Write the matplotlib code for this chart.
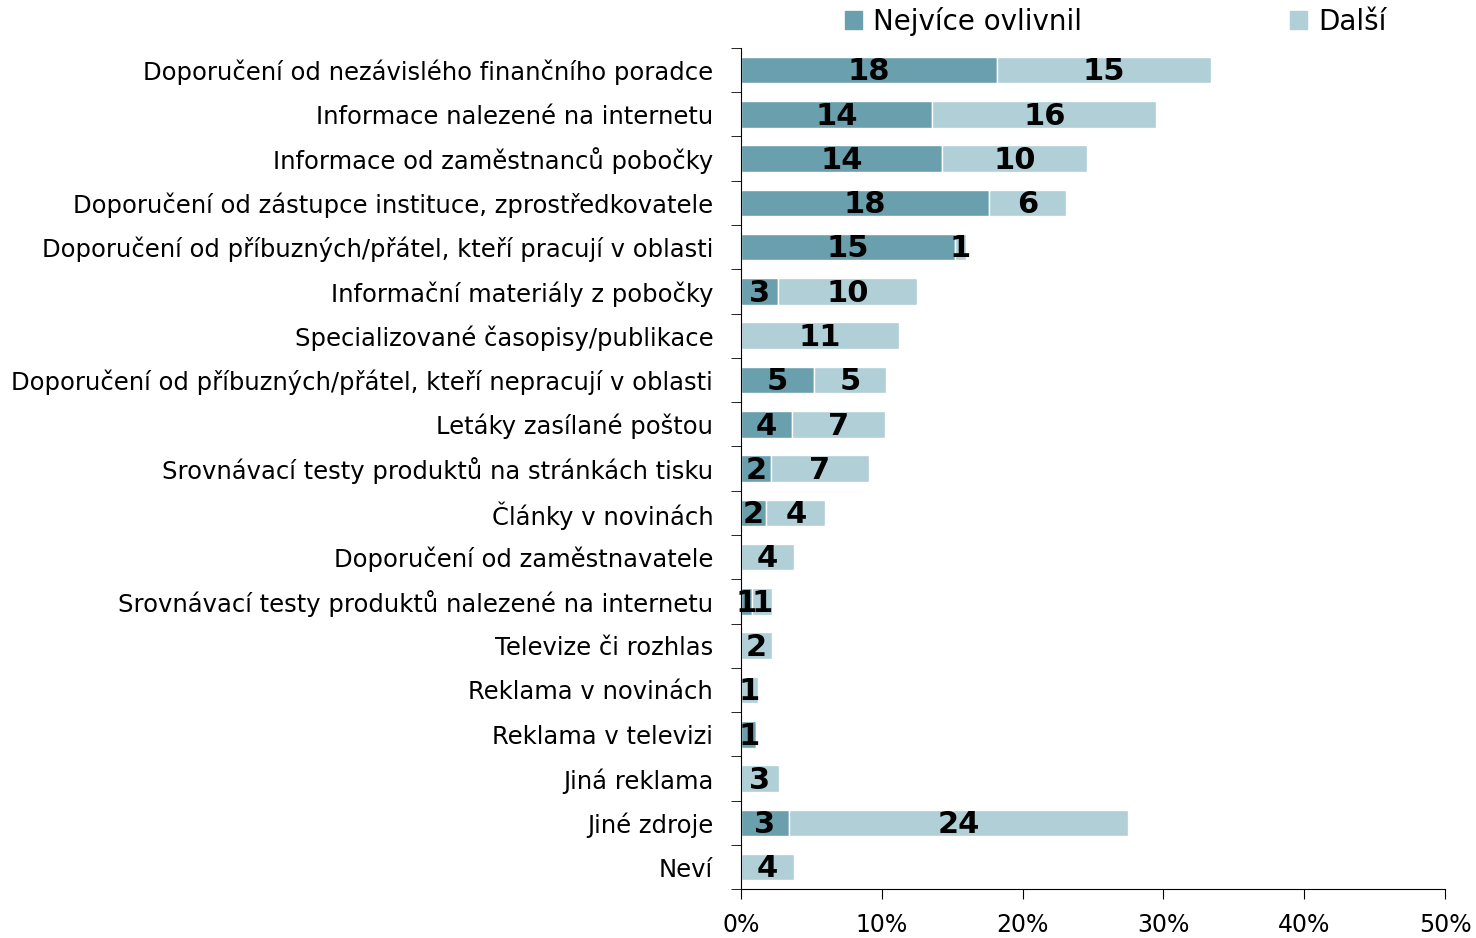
import numpy as np
import matplotlib.pyplot as plt
from matplotlib.patches import Patch

categories = [
    "Doporučení od nezávislého finančního poradce",
    "Informace nalezené na internetu",
    "Informace od zaměstnanců pobočky",
    "Doporučení od zástupce instituce, zprostředkovatele",
    "Doporučení od příbuzných/přátel, kteří pracují v oblasti",
    "Informační materiály z pobočky",
    "Specializované časopisy/publikace",
    "Doporučení od příbuzných/přátel, kteří nepracují v oblasti",
    "Letáky zasílané poštou",
    "Srovnávací testy produktů na stránkách tisku",
    "Články v novinách",
    "Doporučení od zaměstnavatele",
    "Srovnávací testy produktů nalezené na internetu",
    "Televize či rozhlas",
    "Reklama v novinách",
    "Reklama v televizi",
    "Jiná reklama",
    "Jiné zdroje",
    "Neví",
]
most = [18.2, 13.6, 14.3, 17.6, 15.2, 2.6, 0.0, 5.2, 3.6, 2.1, 1.8, 0.0, 0.8, 0.0, 0.0, 1.1, 0.0, 3.4, 0.0]
other = [15.2, 15.9, 10.3, 5.5, 0.8, 9.9, 11.2, 5.1, 6.6, 7.0, 4.2, 3.8, 1.4, 2.2, 1.2, 0.0, 2.7, 24.1, 3.8]
x_ticks = [0, 10, 20, 30, 40, 50]

dark = "#6a9fad"
light = "#b0cfd7"

fig = plt.figure(figsize=(14.76, 9.38), dpi=100)
ax = fig.add_axes([0.502, 0.052, 0.477, 0.897])

y = np.arange(len(categories))
most = np.array(most)
other = np.array(other)
ax.barh(y, most, height=0.6, color=dark, edgecolor="white", linewidth=1)
ax.barh(y, other, left=most, height=0.6, color=light, edgecolor="white", linewidth=1)

# value labels in the middle of each segment
for i in range(len(categories)):
    if most[i] >= 0.5:
        ax.text(most[i] / 2, i + 0.04, f"{most[i]:.0f}", ha="center", va="center",
                fontsize=22, fontweight="heavy", color="black")
    if other[i] >= 0.5:
        ax.text(most[i] + other[i] / 2, i + 0.04, f"{other[i]:.0f}", ha="center", va="center",
                fontsize=22, fontweight="heavy", color="black")

ax.set_xlim(0, 50)
ax.set_ylim(len(categories) - 0.5, -0.5)
ax.set_xticks(x_ticks)
ax.set_xticklabels([f"{t}%" for t in x_ticks], fontsize=17)
ax.set_yticks(y)
ax.set_yticklabels(categories, fontsize=17.5)
ax.tick_params(axis="y", which="major", length=0, pad=20)
ax.set_yticks(np.arange(len(categories) + 1) - 0.5, minor=True)
ax.tick_params(axis="y", which="minor", length=7, direction="out")
ax.tick_params(axis="x", length=7, direction="out", pad=10)
ax.spines["top"].set_visible(False)
ax.spines["right"].set_visible(False)

handles = [Patch(color=dark, label="Nejvíce ovlivnil"), Patch(color=light, label="Další")]
fig.legend(handles=handles, loc="center", bbox_to_anchor=(0.756, 0.977), ncol=2,
           frameon=False, fontsize=20, handlelength=0.6, handleheight=0.6,
           handletextpad=0.4, columnspacing=7.5)

plt.savefig("out.png", dpi=100)
